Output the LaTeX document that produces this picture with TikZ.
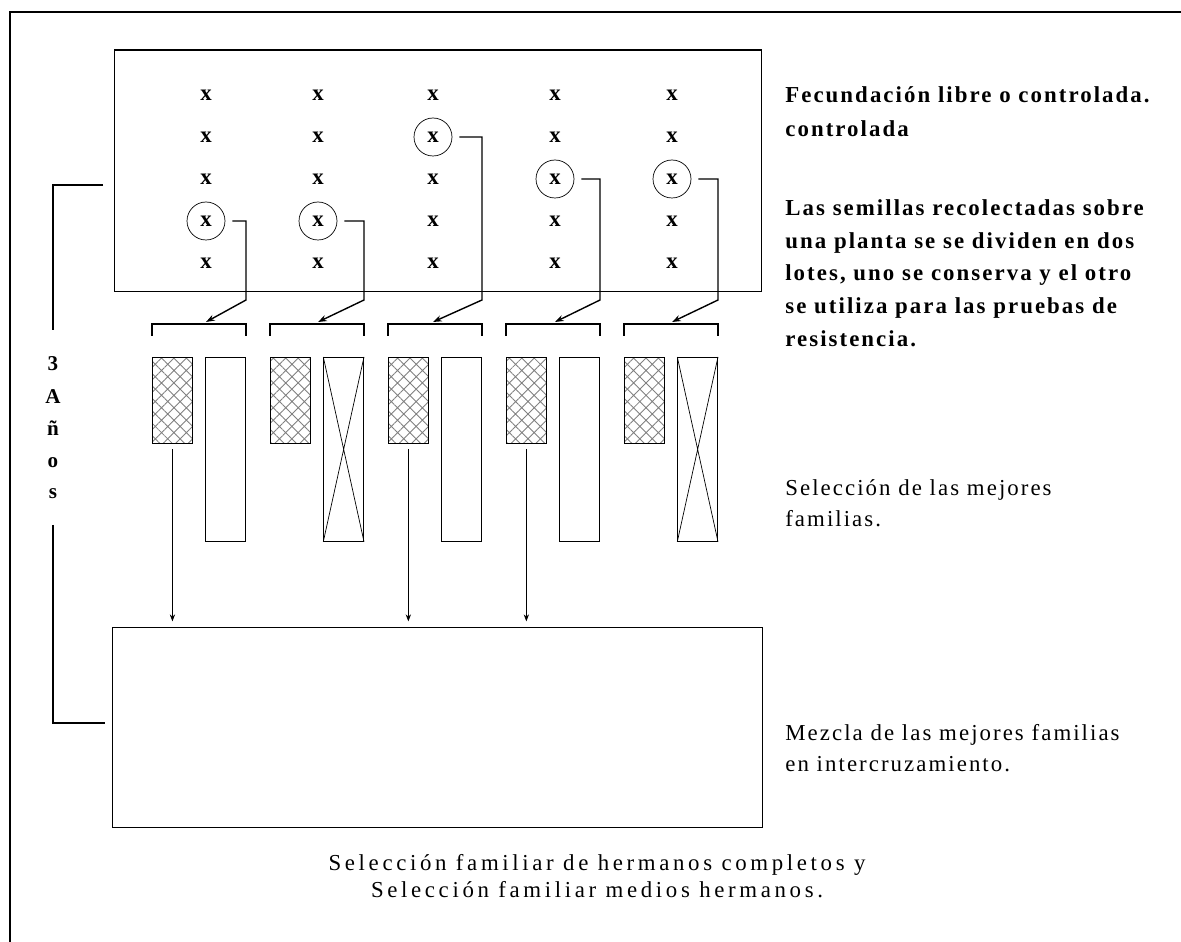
\documentclass[tikz,border=0pt]{standalone}
\usepackage{fontspec}
\setmainfont{Liberation Serif}
\newfontfamily\notefont[LetterSpace=9]{Liberation Serif}
\newfontfamily\capfont[LetterSpace=16]{Liberation Serif}
\usetikzlibrary{patterns.meta,arrows.meta}

\tikzset{
  plant/.style={font=\bfseries\fontsize{13}{13}\selectfont, inner sep=0pt},
  pick/.style={circle, draw, minimum size=0.76cm, inner sep=0pt},
  lot/.style={draw, minimum width=0.8cm, inner sep=0pt},
  hatched/.style={lot, minimum height=1.72cm,
    pattern={Hatch[angle=45,distance=5pt,line width=0.5pt]}, pattern color=black!50},
  tall/.style={lot, minimum height=3.68cm},
  pointer/.style={thick, -{Stealth[length=5pt,width=3.5pt]}},
  note/.style={align=left, anchor=west, inner sep=0pt},
  yearch/.style={font=\bfseries\fontsize{12}{12}\selectfont, anchor=base, inner sep=0pt},
}

\begin{document}
\begin{tikzpicture}[x=0.02cm,y=-0.02cm]
	\useasboundingbox (0,0) rectangle (1181,942);
	% frame
	\draw[semithick] (10,942) -- (10,12) -- (1181,12);
	% field with the plants
	\node[draw, semithick, minimum width=12.96cm, minimum height=4.84cm] (field) at (438,171) {};
	\foreach \c/\xc/\row/\bl in {1/206/4/152, 2/318/4/270, 3/433/2/388, 4/555/3/506, 5/672/3/624}{
		\foreach \r in {1,...,5}
			\node[plant] (p\c\r) at (\xc,{53+42*\r}) {x};
		\node[pick] (c\c) at (p\c\row) {};
		\coordinate (bl\c) at (\bl,324);
		\coordinate (br\c) at ({\bl+94},324);
		\coordinate (knee\c) at ({\bl+94},300);
		\coordinate (tip\c) at (\xc,322);
		\draw[pointer] ([xshift=4pt]c\c.east) -| (knee\c) -- (tip\c);
		\draw[thick] (\bl,336) -- (bl\c) -- (br\c) -- ({\bl+94},336);
		\node[hatched, anchor=north west] (h\c) at (\bl,357) {};
		\node[tall, anchor=north east] (t\c) at ({\bl+94},357) {};
	}
	% discarded families
	\foreach \c in {2,5}
		\draw (t\c.north west) -- (t\c.south east) (t\c.north east) -- (t\c.south west);
	% mixture
	\node[draw, minimum width=13cm, minimum height=4cm] (mix) at (437,727) {};
	\foreach \c in {1,3,4}
		\draw[-{Stealth[length=4pt,width=3pt]}, shorten <=3pt, shorten >=3pt] (h\c.south) -- (h\c.south |- mix.north);
	% 3 years
	\coordinate (yrA) at (103,185);
	\coordinate (yrB) at (53,330);
	\coordinate (yrC) at (53,525);
	\coordinate (yrD) at (105,723);
	\draw[thick] (yrA) -- (53,185) -- (yrB);
	\draw[thick] (yrC) -- (53,723) -- (yrD);
	\foreach \ch/\yy [count=\i] in {3/371, A/404, ñ/436, o/468, s/499}
		\node[yearch] (yr\i) at (53,\yy) {\ch};
	% notes
	\node[note, font=\notefont\bfseries\fontsize{13}{19.3}\selectfont] (fec) at (785,112)
		{Fecundación libre o controlada.\\controlada};
	\node[note, font=\notefont\bfseries\fontsize{13}{18.6}\selectfont] (seed) at (785,273)
		{Las semillas recolectadas sobre\\una planta se se dividen en dos\\lotes, uno se conserva y el otro\\se utiliza para las pruebas de\\resistencia.};
	\node[note, font=\notefont\fontsize{13}{17.5}\selectfont] (best) at (785,503)
		{Selección de las mejores\\familias.};
	\node[note, font=\notefont\fontsize{13}{17.5}\selectfont] (cross) at (785,748)
		{Mezcla de las mejores familias\\en intercruzamiento.};
	\node[align=center, inner sep=0pt, font=\capfont\fontsize{13}{15.5}\selectfont] (cap) at (597,876)
		{Selección familiar de hermanos completos y\\Selección familiar medios hermanos.};
\end{tikzpicture}
\end{document}
